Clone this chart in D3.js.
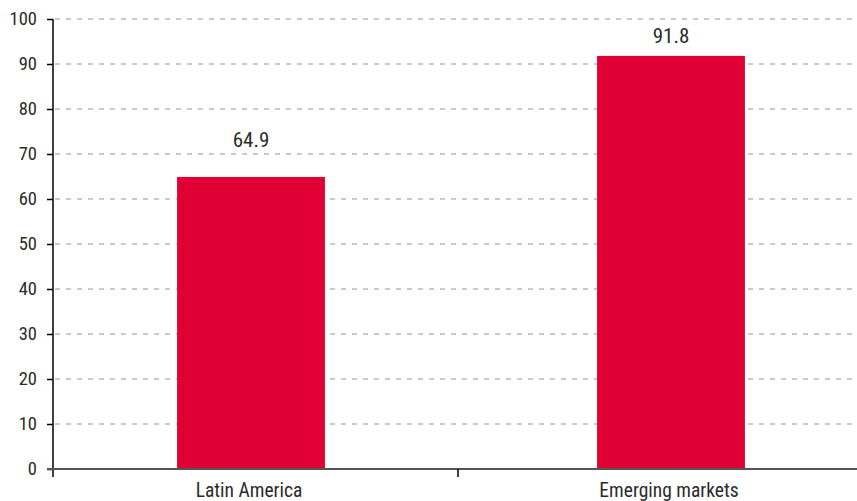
<!DOCTYPE html>
<html>
<head>
<meta charset="utf-8">
<script src="https://cdn.jsdelivr.net/npm/d3@7"></script>
<style>
  html, body { margin: 0; padding: 0; background: #fff; }
  svg { display: block; }
  text { font-family: "Liberation Sans Narrow", "Roboto Condensed", "Arial Narrow", sans-serif; font-size: 19.5px; fill: #2b2b2b; }
  .y-axis text { font-size: 18.5px; }
  .value-label { font-size: 21px; }
</style>
</head>
<body>
<svg id="chart" width="857" height="501"></svg>
<script>
// Chart data
const categories = ["Latin America", "Emerging markets"];
const values = [64.9, 91.8];
const yTicks = [0, 10, 20, 30, 40, 50, 60, 70, 80, 90, 100];

const svg = d3.select("#chart");
const W = 857, H = 501;
const plot = { left: 53, top: 19, bottom: 469 };

const y = d3.scaleLinear().domain([0, 100]).range([plot.bottom, plot.top]);
const x = d3.scaleBand().domain(categories).range([41, 881]).padding(0);
const barW = x.bandwidth() * 0.352;

// Dashed horizontal gridlines
svg.append("g")
  .selectAll("line")
  .data(yTicks.filter(d => d > 0))
  .join("line")
  .attr("x1", plot.left + 2)
  .attr("x2", W)
  .attr("y1", d => y(d))
  .attr("y2", d => y(d))
  .attr("stroke", "#959595")
  .attr("stroke-width", 1)
  .attr("stroke-dasharray", "5,6");

// Bars
svg.append("g")
  .selectAll("rect")
  .data(values)
  .join("rect")
  .attr("x", (d, i) => x(categories[i]) + x.bandwidth() / 2 - barW / 2)
  .attr("width", barW)
  .attr("y", d => y(d))
  .attr("height", d => y(0) - y(d))
  .attr("fill", "#e00033");

// Value labels above the bars
const labelGap = [30, 13];
svg.append("g")
  .selectAll("text")
  .data(values)
  .join("text")
  .attr("class", "value-label")
  .attr("x", (d, i) => x(categories[i]) + x.bandwidth() / 2)
  .attr("y", (d, i) => y(d) - labelGap[i])
  .attr("text-anchor", "middle")
  .text(d => d.toFixed(1));

// Y axis
const yAxis = svg.append("g")
  .attr("class", "y-axis")
  .attr("transform", `translate(${plot.left},0)`)
  .call(d3.axisLeft(y).tickValues(yTicks).tickSize(6).tickPadding(10).tickFormat(d3.format("d")));
yAxis.select(".domain").remove();
yAxis.selectAll(".tick line").attr("stroke", "#000").attr("stroke-width", 1.5);
yAxis.attr("font-size", null).attr("font-family", null);
yAxis.selectAll(".tick text").attr("fill", null);
yAxis.append("line")
  .attr("x1", 0).attr("x2", 0)
  .attr("y1", plot.top).attr("y2", plot.bottom + 8)
  .attr("stroke", "#000").attr("stroke-width", 1.5);

// X axis baseline
svg.append("line")
  .attr("x1", plot.left - 6).attr("x2", W)
  .attr("y1", plot.bottom).attr("y2", plot.bottom)
  .attr("stroke", "#555").attr("stroke-width", 2);

// Separator ticks between categories
svg.append("g")
  .selectAll("line")
  .data(categories.slice(1))
  .join("line")
  .attr("x1", d => x(d) - 3).attr("x2", d => x(d) - 3)
  .attr("y1", plot.bottom).attr("y2", plot.bottom + 8)
  .attr("stroke", "#000").attr("stroke-width", 1.5);

// Category labels
svg.append("g")
  .selectAll("text")
  .data(categories)
  .join("text")
  .attr("x", d => x(d) + x.bandwidth() / 2 - 2)
  .attr("y", 497)
  .attr("text-anchor", "middle")
  .text(d => d);
</script>
</body>
</html>
